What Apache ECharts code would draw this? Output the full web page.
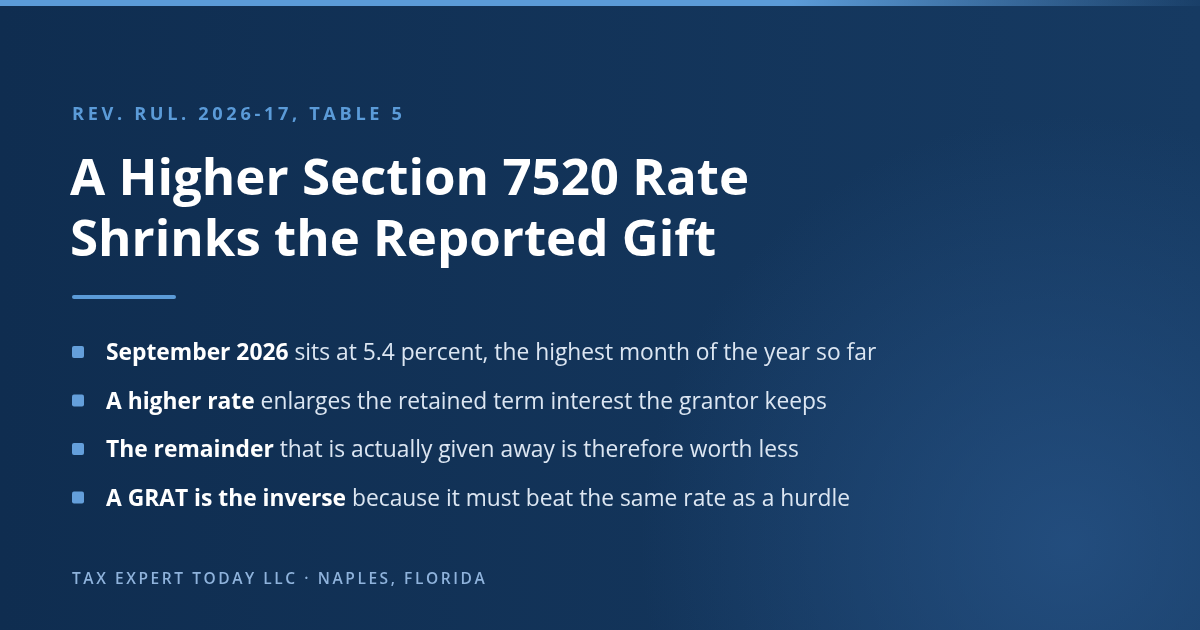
<!DOCTYPE html>
<html>
<head>
<meta charset="utf-8">
<style>
  html, body { margin: 0; padding: 0; background: #0f2d50; }
  #chart { width: 1200px; height: 630px; }
</style>
<script src="https://cdn.jsdelivr.net/npm/echarts@6/dist/echarts.min.js"></script>
</head>
<body>
<div id="chart"></div>
<script>
  const kicker = "REV. RUL. 2026-17, TABLE 5";
  const titleLines = ["A Higher Section 7520 Rate", "Shrinks the Reported Gift"];
  const bulletLeads = ["September 2026", "A higher rate", "The remainder", "A GRAT is the inverse"];
  const bulletRests = [
    "sits at 5.4 percent, the highest month of the year so far",
    "enlarges the retained term interest the grantor keeps",
    "that is actually given away is therefore worth less",
    "because it must beat the same rate as a hurdle"
  ];
  const footer = "TAX EXPERT TODAY LLC \u00b7 NAPLES, FLORIDA";

  const FONT = '"Open Sans", "Noto Sans", sans-serif';
  const ACCENT = "#5b9bd8";

  // fake letter spacing: thin spaces between characters
  function spaced(s, sep) {
    return s.split("").join(sep);
  }

  const chart = echarts.init(document.getElementById("chart"));

  const elements = [];

  // background
  elements.push({
    type: "rect",
    shape: { x: 0, y: 0, width: 1200, height: 630 },
    style: {
      fill: new echarts.graphic.LinearGradient(0, 0, 1, 0, [
        { offset: 0, color: "#0f2d50" },
        { offset: 1, color: "#163a62" }
      ])
    },
    silent: true
  });
  elements.push({
    type: "circle",
    shape: { cx: 1070, cy: 545, r: 430 },
    style: {
      fill: new echarts.graphic.RadialGradient(0.5, 0.5, 0.5, [
        { offset: 0, color: "rgba(38,82,133,0.8)" },
        { offset: 1, color: "rgba(38,82,133,0)" }
      ])
    },
    silent: true
  });

  // top bar
  elements.push({
    type: "rect",
    shape: { x: 0, y: 0, width: 1200, height: 6 },
    style: {
      fill: new echarts.graphic.LinearGradient(0, 0, 1, 0, [
        { offset: 0, color: ACCENT },
        { offset: 0.66, color: ACCENT },
        { offset: 1, color: "rgba(91,155,216,0.05)" }
      ])
    }
  });

  elements.push({
    type: "text",
    x: 72, y: 115,
    style: {
      text: spaced(kicker, "\u200a\u200a"),
      fill: ACCENT,
      font: "bold 18.2px " + FONT,
      verticalAlign: "middle"
    }
  });

  titleLines.forEach(function (line, i) {
    elements.push({
      type: "text",
      x: 70, y: 180 + i * 61,
      style: {
        text: line,
        fill: "#ffffff",
        font: "bold 51px " + FONT,
        verticalAlign: "middle"
      }
    });
  });

  elements.push({
    type: "rect",
    shape: { x: 72, y: 295, width: 104, height: 4, r: 2 },
    style: { fill: ACCENT }
  });

  bulletLeads.forEach(function (lead, i) {
    const cy = 352 + i * 48.5;
    elements.push({
      type: "rect",
      shape: { x: 72, y: cy - 6, width: 12, height: 12, r: 2 },
      style: { fill: "#649fdb" }
    });
    elements.push({
      type: "text",
      x: 106, y: cy + 2,
      style: {
        text: "{b|" + lead + "}{r| " + bulletRests[i] + "}",
        verticalAlign: "middle",
        rich: {
          b: { fill: "#ffffff", fontWeight: "bold", fontSize: 22.8, fontFamily: FONT },
          r: { fill: "#dce6f2", fontWeight: "normal", fontSize: 22.8, fontFamily: FONT }
        }
      }
    });
  });

  elements.push({
    type: "text",
    x: 72, y: 580,
    style: {
      text: spaced(footer, "\u2009"),
      fill: "#8fb3dc",
      font: "600 15.5px " + FONT,
      verticalAlign: "middle"
    }
  });

  chart.setOption({
    animation: false,
    graphic: { elements: elements }
  });
</script>
</body>
</html>
